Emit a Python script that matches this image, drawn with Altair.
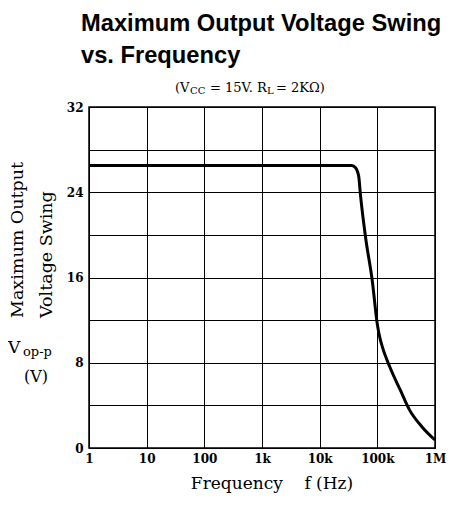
import altair as alt
import pandas as pd

# Curve data (frequency in Hz, output swing in V)
freq = [1, 10, 100, 1000, 10000, 30000, 36000, 42000, 45500, 47800, 50900,
        62400, 81700, 100000, 110000, 123800, 164800, 252000, 359000, 592000, 1000000]
vswing = [26.5, 26.5, 26.5, 26.5, 26.5, 26.5, 26.5, 26.3, 25.9, 25.4, 23.8,
          19.8, 15.7, 11.6, 10.4, 9.4, 7.6, 5.4, 3.6, 2.0, 0.75]

x_ticks = [1, 10, 100, 1000, 10000, 100000, 1000000]
x_labels = ["1", "10", "100", "1k", "10k", "100k", "1M"]
y_ticks = [0, 4, 8, 12, 16, 20, 24, 28, 32]
y_labels = ["0", "", "8", "", "16", "", "24", "", "32"]

title_lines = ["Maximum Output Voltage Swing", "vs. Frequency"]
x_title = "Frequency\u00a0\u00a0\u00a0\u00a0f\u00a0(Hz)"
y_title_lines = ["Maximum Output", "Voltage Swing"]

df = pd.DataFrame({"f": freq, "v": vswing})


def label_expr(ticks, labels):
    expr = "''"
    for t, l in reversed(list(zip(ticks, labels))):
        expr = f"datum.value == {t} ? '{l}' : ({expr})"
    return expr


SERIF = "DejaVu Serif"

curve = alt.Chart(df).mark_line(
    color="black", strokeWidth=3, interpolate="monotone"
).encode(
    x=alt.X("f:Q", scale=alt.Scale(type="log", domain=[1, 1000000], nice=False),
            axis=alt.Axis(values=x_ticks, labelExpr=label_expr(x_ticks, x_labels),
                          title=None, grid=True, labelFont=SERIF, labelFontWeight="bold",
                          labelFontSize=12, labelPadding=5, labelColor="black",
                          labelFlush=False)),
    y=alt.Y("v:Q", scale=alt.Scale(domain=[0, 32], nice=False),
            axis=alt.Axis(values=y_ticks, labelExpr=label_expr(y_ticks, y_labels),
                          title=None, grid=True, labelFont=SERIF, labelFontWeight="bold",
                          labelFontSize=12, labelPadding=6, labelColor="black")),
)

one = pd.DataFrame({"k": [0]})
DX = 2  # plot origin sits 2px left of the reference's, shift texts back


def txt(text, x, y, size, font=SERIF, weight="normal", align="left", angle=0,
        baseline="alphabetic"):
    kw = dict(font=font, fontSize=size, fontWeight=weight, align=align,
              baseline=baseline, color="black")
    if angle:
        kw["angle"] = angle
    return alt.Chart(one).mark_text(**kw).encode(
        x=alt.value(x + DX), y=alt.value(y), text=alt.value(text))


layers = [
    curve,
    txt(title_lines[0], -10, -76, 23.7, font="Liberation Sans", weight="bold"),
    txt(title_lines[1], -10, -44, 23.7, font="Liberation Sans", weight="bold"),
    # subtitle (Vcc = 15V. RL = 2KΩ)
    txt("(V", 84, -15, 13),
    txt("CC", 99, -13, 10),
    txt("= 15V. R", 119, -15, 13),
    txt("L", 176, -13, 10),
    txt("= 2KΩ)", 185, -15, 13),
    # y title
    txt(y_title_lines[0], -73, 211, 17.5, angle=270, baseline="middle"),
    txt(y_title_lines[1], -44, 211, 17.5, angle=270, baseline="middle"),
    txt("V", -83, 246, 17),
    txt("op-p", -68, 249, 13),
    txt("(V)", -55, 275, 16, align="center"),
    # x title
    txt(x_title, 181, 382, 17, align="center"),
]

chart = alt.layer(*layers).properties(
    width=346, height=341,
    autosize=alt.AutoSizeParams(type="none"),
    padding={"left": 81, "top": 99, "right": 11, "bottom": 49},
).configure_view(
    stroke="black", strokeWidth=1.5
).configure_axis(
    domain=False, ticks=False, gridColor="black", gridOpacity=1, gridWidth=1
)

chart.save("out.html", embed_options={"renderer": "svg", "actions": False})
